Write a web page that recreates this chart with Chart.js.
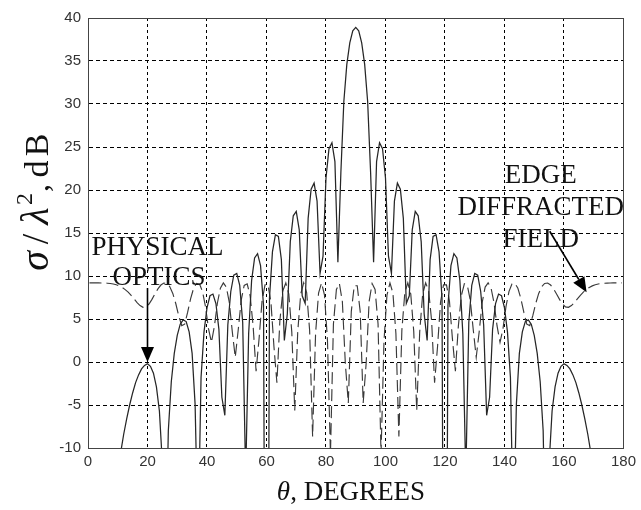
<!DOCTYPE html>
<html><head><meta charset="utf-8">
<script src="https://cdn.jsdelivr.net/npm/chart.js@4/dist/chart.umd.min.js"></script>
<style>html,body{margin:0;padding:0;background:#fff}#wrap{width:641px;height:510px}</style>
</head><body><div id="wrap"><canvas id="c" width="641" height="510"></canvas></div>
<script>
// theta in degrees for the physical-optics curve (every 1 degree)
const angles = [0,1,2,3,4,5,6,7,8,9,10,11,12,13,14,15,16,17,18,19,20,21,22,23,24,25,26,27,28,29,30,31,32,33,34,35,36,37,38,39,40,41,42,43,44,45,46,47,48,49,50,51,52,53,54,55,56,57,58,59,60,61,62,63,64,65,66,67,68,69,70,71,72,73,74,75,76,77,78,79,80,81,82,83,84,85,86,87,88,89,90,91,92,93,94,95,96,97,98,99,100,101,102,103,104,105,106,107,108,109,110,111,112,113,114,115,116,117,118,119,120,121,122,123,124,125,126,127,128,129,130,131,132,133,134,135,136,137,138,139,140,141,142,143,144,145,146,147,148,149,150,151,152,153,154,155,156,157,158,159,160,161,162,163,164,165,166,167,168,169,170,171,172,173,174,175,176,177,178,179,180];

// Physical optics, sigma/lambda^2 in dB
const physicalOptics = [-80,-72.6,-54.5,-43.9,-36.4,-30.6,-25.9,-21.9,-18.5,-15.5,
-12.8,-10.5,-8.4,-6.6,-5.0,-3.6,-2.4,-1.5,-0.8,-0.4,
-0.2,-0.5,-1.3,-2.9,-5.7,-11.8,-25.7,-8.0,-2.3,1.0,
3.1,4.4,4.9,4.7,3.5,1.0,-4.9,-20.8,-1.8,3.5,
6.3,7.7,7.9,6.8,3.8,-4.1,-6.2,4.3,8.2,10.1,
10.3,8.9,4.6,-13.4,3.3,9.5,12.1,12.6,11.2,6.6,
-80,7.4,12.8,14.8,14.6,11.9,2.5,5.6,14.0,17.0,
17.5,15.4,7.7,6.8,16.7,20.1,20.8,18.7,10.3,12.3,
21.4,24.8,25.5,23.3,11.6,22.0,30.3,34.6,37.1,38.5,
38.9,
38.5,37.1,34.6,30.3,22.0,11.6,23.3,25.5,24.8,21.4,
12.3,10.3,18.7,20.8,20.1,16.7,6.8,7.7,15.4,17.5,
17.0,14.0,5.6,2.5,11.9,14.6,14.8,12.8,7.4,-80,
6.6,11.2,12.6,12.1,9.5,3.3,-13.4,4.6,8.9,10.3,
10.1,8.2,4.3,-6.2,-4.1,3.8,6.8,7.9,7.7,6.3,
3.5,-1.8,-20.8,-4.9,1.0,3.5,4.7,4.9,4.4,3.1,
1.0,-2.3,-8.0,-25.7,-11.8,-5.7,-2.9,-1.3,-0.5,-0.2,
-0.4,-0.8,-1.5,-2.4,-3.6,-5.0,-6.6,-8.4,-10.5,-12.8,
-15.5,-18.5,-21.9,-25.9,-30.6,-36.4,-43.9,-54.5,-72.6,-80];

// theta in degrees for the edge-diffracted curve (half-degree offset samples)
const edgeAngles = [0.5,1.5,2.5,3.5,4.5,5.5,6.5,7.5,8.5,9.5,10.5,11.5,12.5,13.5,14.5,15.5,16.5,17.5,18.5,19.5,20.5,21.5,22.5,23.5,24.5,25.5,26.5,27.5,28.5,29.5,30.5,31.5,32.5,33.5,34.5,35.5,36.5,37.5,38.5,39.5,40.5,41.5,42.5,43.5,44.5,45.5,46.5,47.5,48.5,49.5,50.5,51.5,52.5,53.5,54.5,55.5,56.5,57.5,58.5,59.5,60.5,61.5,62.5,63.5,64.5,65.5,66.5,67.5,68.5,69.5,70.5,71.5,72.5,73.5,74.5,75.5,76.5,77.5,78.5,79.5,80.5,81.5,82.5,83.5,84.5,85.5,86.5,87.5,88.5,89.5,90.5,91.5,92.5,93.5,94.5,95.5,96.5,97.5,98.5,99.5,100.5,101.5,102.5,103.5,104.5,105.5,106.5,107.5,108.5,109.5,110.5,111.5,112.5,113.5,114.5,115.5,116.5,117.5,118.5,119.5,120.5,121.5,122.5,123.5,124.5,125.5,126.5,127.5,128.5,129.5,130.5,131.5,132.5,133.5,134.5,135.5,136.5,137.5,138.5,139.5,140.5,141.5,142.5,143.5,144.5,145.5,146.5,147.5,148.5,149.5,150.5,151.5,152.5,153.5,154.5,155.5,156.5,157.5,158.5,159.5,160.5,161.5,162.5,163.5,164.5,165.5,166.5,167.5,168.5,169.5,170.5,171.5,172.5,173.5,174.5,175.5,176.5,177.5,178.5,179.5];

// Edge diffracted field, sigma/lambda^2 in dB
const edgeDiffracted = [9.2,9.2,9.2,9.2,9.19,9.18,9.16,9.13,9.07,8.98,
8.85,8.67,8.42,8.12,7.75,7.34,6.91,6.56,6.36,6.41,
6.74,7.28,7.91,8.50,8.95,9.18,9.13,8.75,7.97,6.80,
5.36,4.23,4.40,5.79,7.38,8.57,9.15,9.06,8.19,6.44,
3.88,2.29,4.19,6.86,8.57,9.2,8.71,6.92,3.53,0.55,
3.75,7.19,8.91,9.10,7.70,4.20,-1.07,2.69,7.07,8.97,
8.97,6.95,1.81,-2.42,4.82,8.29,9.19,7.91,3.50,-5.65,
3.53,7.89,9.2,8.08,3.67,-8.67,3.32,8.00,9.2,7.79,
2.48,-10.71,4.42,8.43,9.13,7.04,-0.15,-4.76,5.86,8.87,
8.87,5.86,-4.76,-0.15,7.04,9.13,8.43,4.42,-10.71,2.48,
7.79,9.2,8.00,3.32,-8.67,3.67,8.08,9.2,7.89,3.53,
-5.65,3.50,7.91,9.19,8.29,4.82,-2.42,1.81,6.95,8.97,
8.97,7.07,2.69,-1.07,4.20,7.70,9.10,8.91,7.19,3.75,
0.55,3.53,6.92,8.71,9.2,8.57,6.86,4.19,2.29,3.88,
6.44,8.19,9.06,9.15,8.57,7.38,5.79,4.40,4.23,5.36,
6.80,7.97,8.75,9.13,9.18,8.95,8.50,7.91,7.28,6.74,
6.41,6.36,6.56,6.91,7.34,7.75,8.12,8.42,8.67,8.85,
8.98,9.07,9.13,9.16,9.18,9.19,9.2,9.2,9.2,9.2];

const xTicks = [0,20,40,60,80,100,120,140,160,180];
const yTicks = [-10,-5,0,5,10,15,20,25,30,35,40];

const serif = '"Liberation Serif","Times New Roman",serif';

const overlay = {
  id: 'overlay',
  afterDraw(chart) {
    const ctx = chart.ctx, a = chart.chartArea;
    const xs = chart.scales.x, ys = chart.scales.y;
    const X = v => xs.getPixelForValue(v), Y = v => ys.getPixelForValue(v);
    ctx.save();
    // frame
    ctx.strokeStyle = '#444'; ctx.lineWidth = 1; ctx.setLineDash([]);
    ctx.strokeRect(Math.round(a.left)+0.5, Math.round(a.top)+0.5, Math.round(a.right-a.left), Math.round(a.bottom-a.top));
    // annotations
    ctx.fillStyle = '#111';
    ctx.font = '27px ' + serif;
    ctx.textAlign = 'left'; ctx.textBaseline = 'alphabetic';
    ctx.fillText('PHYSICAL', X(1.2), Y(12.4));
    ctx.fillText('OPTICS', X(8.2), Y(8.95));
    ctx.textAlign = 'center';
    ctx.fillText('EDGE', X(152.2), Y(20.8));
    ctx.fillText('DIFFRACTED', X(152.2), Y(17.1));
    ctx.fillText('FIELD', X(152.2), Y(13.4));
    // arrows
    function arrow(x1,y1,x2,y2){
      ctx.strokeStyle='#000'; ctx.lineWidth=1.6;
      const ang=Math.atan2(y2-y1,x2-x1), L=15, W=6.5;
      const bx=x2-L*Math.cos(ang), by=y2-L*Math.sin(ang);
      ctx.beginPath(); ctx.moveTo(x1,y1); ctx.lineTo(bx,by); ctx.stroke();
      ctx.beginPath(); ctx.moveTo(x2,y2);
      ctx.lineTo(bx+W*Math.sin(ang), by-W*Math.cos(ang));
      ctx.lineTo(bx-W*Math.sin(ang), by+W*Math.cos(ang));
      ctx.closePath(); ctx.fillStyle='#000'; ctx.fill();
    }
    arrow(X(20), Y(8.6), X(20), Y(0));
    arrow(X(155.2), Y(15.2), X(167.6), Y(8.1));
    // x axis title
    ctx.fillStyle = '#111';
    const th = 'θ', rest = ', DEGREES';
    ctx.font = 'italic 27px ' + serif; const w1 = ctx.measureText(th).width;
    ctx.font = '27px ' + serif; const w2 = ctx.measureText(rest).width;
    let sx = 351 - (w1+w2)/2;
    ctx.textAlign = 'left';
    ctx.font = 'italic 27px ' + serif; ctx.fillText(th, sx, 500);
    ctx.font = '27px ' + serif; ctx.fillText(rest, sx+w1, 500);
    // y axis title, rotated, glyph by glyph (centre positions along page y)
    ctx.translate(48, 0); ctx.rotate(-Math.PI/2);
    ctx.textAlign = 'center';
    const glyphs = [
      {t:'σ', f:'italic 40px ' + serif, c:261, dy:0},
      {t:'/', f:'38px ' + serif, c:239, dy:0},
      {t:'λ', f:'italic 40px ' + serif, c:216, dy:0},
      {t:'2', f:'24px ' + serif, c:199, dy:-16},
      {t:',', f:'32px ' + serif, c:188, dy:0},
      {t:'d', f:'34px ' + serif, c:169, dy:0},
      {t:'B', f:'34px ' + serif, c:145, dy:0}
    ];
    glyphs.forEach(g=>{ ctx.font = g.f; ctx.fillText(g.t, -g.c, g.dy); });
    ctx.restore();
  }
};

const toPts = (xsArr, arr) => xsArr.map((a,i)=>({x:a, y:arr[i]}));

new Chart(document.getElementById('c'), {
  type: 'line',
  data: { datasets: [
    { label: 'Physical optics', data: toPts(angles, physicalOptics), borderColor: '#262626', borderWidth: 1.25, pointRadius: 0, tension: 0, fill: false },
    { label: 'Edge diffracted field', data: toPts(edgeAngles, edgeDiffracted), borderColor: '#3a3a3a', borderWidth: 1.15, borderDash: [12,5], pointRadius: 0, tension: 0, fill: false }
  ]},
  options: {
    animation: false, responsive: false, devicePixelRatio: 1,
    layout: { padding: { top: 18, right: 5, left: 0, bottom: 0 } },
    plugins: { legend: { display: false }, tooltip: { enabled: false } },
    scales: {
      x: { type: 'linear', min: 0, max: 180,
        afterBuildTicks(s){ s.ticks = xTicks.map(v=>({value:v})); },
        ticks: { font: { family: '"Liberation Sans",Arial,sans-serif', size: 15 }, color: '#333', padding: 5, maxRotation: 0 },
        grid: { color: '#000', lineWidth: 1, drawTicks: false },
        border: { color: '#444', dash: [3,3] },
        afterFit(s){ s.height = 62; } },
      y: { type: 'linear', min: -10, max: 40,
        afterBuildTicks(s){ s.ticks = yTicks.map(v=>({value:v})); },
        ticks: { font: { family: '"Liberation Sans",Arial,sans-serif', size: 15 }, color: '#333', padding: 7 },
        grid: { color: '#000', lineWidth: 1, drawTicks: false },
        border: { color: '#444', dash: [4,3] },
        afterFit(s){ s.width = 88; } }
    }
  },
  plugins: [overlay]
});
</script>
</body></html>
